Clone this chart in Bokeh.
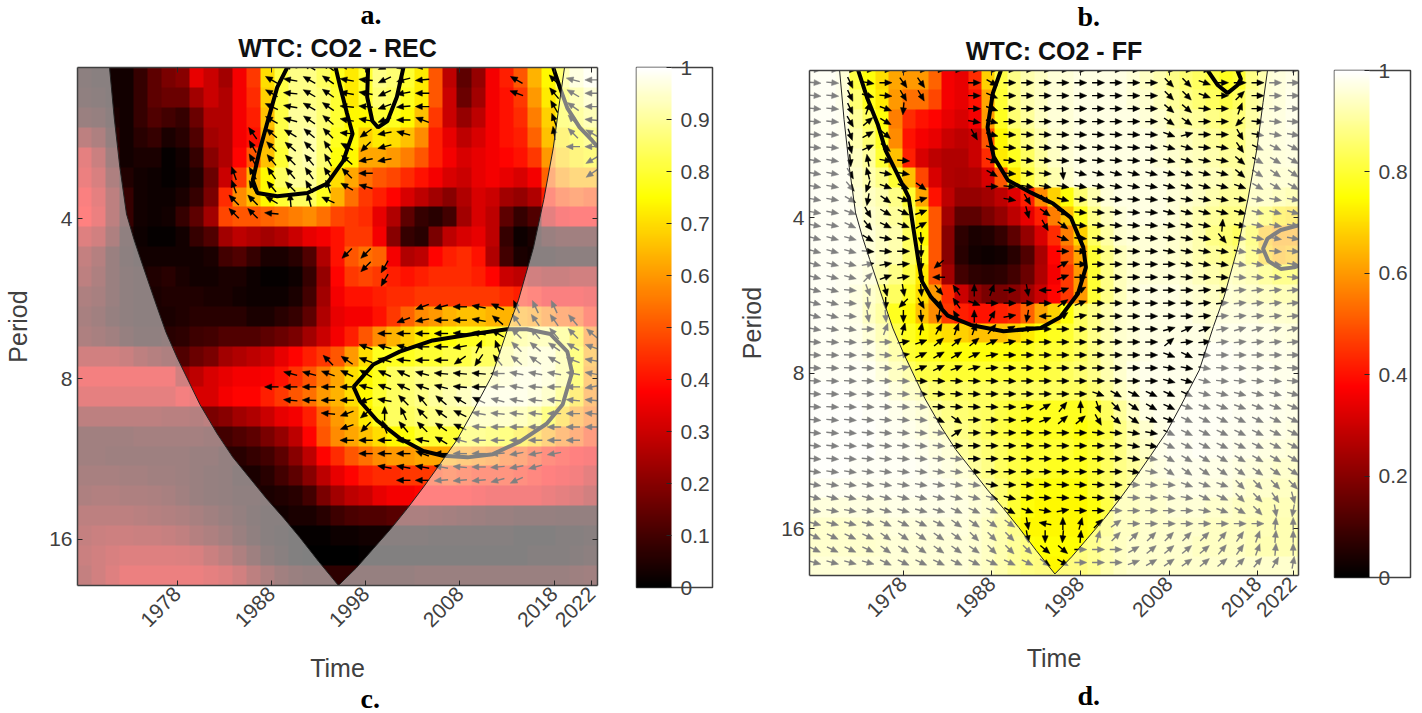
import math
import numpy as np
from bokeh.plotting import figure
from bokeh.layouts import row
from bokeh.models import (Range1d, LinearAxis, FixedTicker, LinearColorMapper, ColorBar, Title)
from bokeh.embed import file_html
from bokeh.resources import INLINE

YEAR_TICKS = [1978, 1988, 1998, 2008, 2018, 2022]
PERIOD_TICKS = {2: "4", 3: "8", 4: "16"}

# coherence in percent, top row first, 37 columns x 26 rows
COH_A = [
[4,3,3,3,8,14,18,20,34,30,24,36,46,70,82,88,88,84,78,72,80,88,86,80,72,50,28,14,22,36,42,50,64,74,86,94,98],
[5,4,3,3,8,14,16,16,24,30,26,36,44,68,82,88,88,86,80,72,80,86,84,78,72,50,30,16,24,36,40,46,60,72,80,86,92],
[8,7,4,3,8,12,10,8,16,26,26,36,42,66,82,90,90,86,80,74,74,80,78,74,66,46,30,22,28,36,40,44,56,68,78,82,86],
[18,14,6,3,6,8,4,6,12,24,26,36,40,64,82,90,92,86,78,76,68,72,70,66,58,42,34,28,32,36,40,42,52,66,72,76,80],
[30,22,10,3,4,4,1,3,8,20,26,38,50,66,80,90,92,86,76,74,62,62,60,56,50,42,36,32,34,36,38,40,46,60,68,72,74],
[32,26,14,5,3,2,1,2,5,16,30,46,64,74,84,90,90,84,70,62,54,50,48,44,40,36,32,30,34,36,34,32,36,52,60,64,64],
[36,30,18,8,3,2,2,4,8,18,44,58,66,74,80,84,84,78,64,54,46,42,38,32,28,24,20,26,32,30,24,22,26,42,48,50,48],
[38,32,18,8,3,2,3,8,14,24,48,50,50,52,54,56,58,54,48,46,44,34,26,14,8,6,10,24,32,28,14,8,12,30,36,38,38],
[28,24,14,5,2,1,1,3,8,12,24,28,26,24,26,30,34,36,40,46,46,36,20,8,6,18,28,32,34,28,8,2,4,8,10,10,10],
[20,16,8,4,3,3,3,3,3,4,10,12,8,4,4,6,12,26,40,50,54,52,36,26,28,38,42,44,40,26,10,4,3,3,4,4,4],
[18,14,8,5,4,5,6,4,3,3,4,4,2,1,1,2,8,22,38,46,48,46,42,40,42,44,44,44,42,38,30,28,24,22,22,24,24],
[14,12,8,5,4,4,5,5,5,4,4,3,2,2,2,4,10,24,36,40,40,42,44,44,46,46,46,46,46,46,44,42,40,36,36,36,34],
[12,10,7,5,4,4,4,5,6,6,6,6,4,4,6,8,14,26,34,36,36,40,46,52,58,60,64,66,66,64,64,62,60,56,52,50,42],
[14,12,10,7,5,5,6,7,9,10,12,12,12,14,16,18,24,30,36,42,50,58,64,68,72,74,76,78,78,80,82,86,88,88,84,72,56],
[24,24,24,22,18,16,14,12,16,18,24,26,28,30,34,38,42,46,50,60,70,78,78,78,80,80,82,82,84,84,88,92,94,94,88,76,62],
[34,34,34,34,34,34,34,24,28,32,34,36,36,37,40,45,50,56,62,70,74,78,84,86,88,88,90,90,92,92,94,96,96,94,88,76,60],
[30,30,30,30,30,30,30,34,32,32,36,38,38,42,46,50,54,60,64,70,74,80,84,86,88,90,92,94,96,96,96,96,94,90,82,70,58],
[18,18,18,18,18,18,17,17,16,18,20,24,26,30,34,36,42,52,60,65,72,78,84,84,86,88,90,90,90,90,90,88,84,76,68,60,54],
[10,10,10,10,11,11,11,11,11,10,10,12,14,18,22,28,38,50,58,62,66,70,74,76,80,80,80,80,80,78,76,72,68,62,56,52,46],
[10,10,9,9,9,9,9,9,8,8,6,6,8,10,14,20,28,38,44,50,54,58,60,60,62,62,62,60,58,56,52,50,46,42,40,38,36],
[12,12,12,11,11,10,10,9,8,7,6,4,4,6,10,14,20,28,34,38,42,44,44,46,46,46,48,46,44,44,44,42,40,38,36,34,30],
[14,15,15,14,14,13,12,10,8,7,6,5,5,4,5,6,10,18,24,28,30,34,36,36,38,38,38,38,36,34,34,34,34,32,30,28,24],
[18,18,18,18,17,16,15,14,12,10,8,6,4,3,3,4,4,6,9,11,12,12,13,13,13,12,11,10,9,8,8,7,7,7,6,6,6],
[20,22,23,23,22,22,21,19,16,14,11,8,5,3,2,1,1,1,2,2,3,3,3,3,3,2,2,2,2,2,2,1,1,1,2,2,3],
[22,24,26,28,28,28,28,27,26,22,18,14,9,5,3,1,0,0,0,0,1,1,1,1,1,1,1,1,1,1,1,1,2,2,2,3,4],
[20,24,28,32,32,32,32,32,32,30,28,24,18,14,10,8,7,7,7,7,7,7,7,7,8,8,8,8,8,8,8,8,8,8,8,9,10],
]
COH_B = [
[98,98,96,82,76,70,62,60,60,52,36,34,44,68,82,88,92,94,96,96,97,97,97,97,96,94,92,88,86,84,82,78,80,88,92,93,95],
[98,98,96,86,78,72,60,54,54,48,36,34,40,62,80,88,92,94,96,96,97,97,97,97,96,95,93,90,88,86,84,82,84,90,92,93,96],
[98,98,97,90,84,76,56,44,40,38,34,32,36,60,78,86,90,94,96,96,97,97,97,97,97,96,95,92,91,90,88,86,87,91,93,94,96],
[98,98,97,92,86,78,58,40,36,34,30,28,30,50,74,82,88,92,95,96,97,97,97,97,97,97,96,94,93,92,90,88,88,92,93,94,95],
[98,98,98,94,90,80,66,42,32,28,26,26,30,44,72,78,84,90,94,96,97,97,97,97,97,97,96,95,94,93,92,90,90,92,92,93,94],
[98,98,98,95,92,88,80,66,48,32,26,25,26,32,50,72,82,88,92,95,97,97,97,97,97,97,97,96,95,94,93,92,91,92,92,92,92],
[98,98,98,96,94,92,88,80,62,40,28,22,22,24,28,33,42,58,68,76,86,92,96,97,97,97,97,96,95,94,92,90,90,90,90,88,86],
[98,98,98,97,95,93,90,84,72,50,24,14,14,18,22,28,34,42,56,66,78,88,93,96,97,97,97,96,94,92,90,88,88,86,80,72,70],
[98,98,98,97,96,94,92,84,74,50,20,7,4,5,8,14,22,32,44,56,68,84,91,95,96,96,96,95,94,92,88,86,84,78,66,62,62],
[98,98,98,97,96,94,92,85,78,50,20,6,3,2,3,6,12,25,38,50,62,80,88,93,95,96,96,95,94,92,90,88,86,80,68,64,66],
[98,98,97,96,94,92,88,82,72,50,24,10,7,6,7,10,16,26,36,46,60,80,88,93,95,96,96,96,95,93,92,90,88,86,82,78,78],
[98,98,97,94,90,86,84,78,70,60,44,30,22,18,18,20,24,30,38,46,60,80,88,93,96,97,97,97,96,95,94,92,91,90,88,86,86],
[98,98,97,95,88,82,78,74,66,58,46,42,40,40,42,44,52,62,68,76,84,88,92,95,96,97,97,97,97,96,95,94,94,94,92,91,90],
[98,98,97,96,92,86,82,78,74,72,70,68,66,66,66,68,72,76,78,80,84,88,92,95,96,97,97,97,97,97,96,96,96,96,95,94,93],
[98,98,98,97,95,90,84,80,78,78,76,76,76,76,76,76,78,80,80,82,84,88,92,95,96,97,98,98,98,98,98,98,97,97,96,96,95],
[98,98,98,98,97,93,88,84,82,82,80,80,80,80,80,80,80,80,82,84,86,88,92,95,97,98,98,98,98,98,98,98,98,97,97,96,96],
[99,99,99,98,98,97,93,90,88,86,85,85,84,84,84,84,84,84,84,84,84,86,90,94,96,98,98,98,98,98,98,98,98,98,97,97,96],
[99,99,99,99,98,98,96,94,92,90,88,86,85,84,82,80,78,78,78,78,78,80,84,90,94,97,98,98,98,98,98,98,97,97,97,96,95],
[99,99,99,99,99,98,97,96,94,92,90,88,86,84,82,80,78,78,78,78,76,78,82,88,92,95,97,98,98,98,98,97,97,97,96,95,94],
[99,99,99,99,99,98,98,97,96,94,92,90,88,86,84,82,80,80,80,80,78,80,84,88,92,94,96,97,97,98,97,97,96,96,94,93,92],
[99,99,99,98,98,98,98,98,97,96,94,92,90,88,84,82,80,80,78,78,78,80,84,88,90,92,94,96,96,96,95,95,94,93,92,90,90],
[97,97,97,97,97,97,97,97,97,97,96,94,92,90,86,82,78,76,76,76,76,80,84,88,90,92,92,94,95,95,94,94,92,90,90,88,88],
[93,93,93,94,94,94,95,95,95,95,95,94,92,90,86,80,76,74,74,74,74,76,82,88,88,90,90,92,92,92,90,90,88,88,86,86,86],
[90,90,90,91,92,92,93,93,93,93,93,93,91,88,84,78,74,74,74,74,74,76,82,88,88,90,90,90,90,90,88,88,88,86,86,85,85],
[90,90,90,90,90,91,92,92,92,92,92,92,91,88,84,80,76,75,75,75,75,78,84,88,90,90,90,90,90,88,88,88,88,86,85,85,85],
[92,92,92,92,92,92,92,92,92,92,92,92,90,88,84,80,76,74,74,74,74,78,84,88,90,90,90,90,90,90,90,90,90,90,90,90,90],
]

# cone of influence: (year, log2 period)
COI_YEAR = [1970.8,1971.3,1971.9,1972.6,1973.4,1974.2,1975.6,1976.8,1978,1980.4,1982.2,1983.9,1985.7,1987.5,1989.3,1991.0,1993.0,1995.1,
            1997.0,1998.8,2000.6,2002.4,2004.2,2005.9,2007.7,2009.4,2011.4,2013.0,2014.2,2015.8,2016.9,2017.9,2018.6,2019.1]
COI_LOG = [1.056,1.37,1.68,1.97,2.13,2.27,2.51,2.71,2.87,3.16,3.34,3.49,3.62,3.75,3.87,3.99,4.14,4.29,
           4.18,4.06,3.94,3.81,3.67,3.53,3.38,3.2,2.98,2.7,2.51,2.18,1.88,1.56,1.26,1.056]

# significance contours: (year, log2 period)
CONT_A = [
 ([1989.66,1988.6,1987.5,1986.8,1986.0,1986.5,1988.6,1991.8,1993.9,1995.6,1996.6,1996.0,1995.3,1994.8],
  [1.056,1.18,1.41,1.56,1.76,1.84,1.86,1.84,1.78,1.64,1.47,1.34,1.18,1.056]),
 ([1998.25,1998.15,1998.7,1999.3,2000.3,2001.3,2002.0],
  [1.056,1.24,1.39,1.43,1.39,1.24,1.056]),
 ([1996.7,1998.8,2001.6,2005.1,2009.4,2013.0,2015.1,2017.6,2019.4,2019.9,2018.9,2017.2,2014.4,2011.5,2008.8,2006.2,2004.1,2001.6,1999.2,1997.4,1996.7],
  [3.05,2.91,2.83,2.76,2.72,2.69,2.69,2.72,2.83,2.96,3.16,3.28,3.39,3.47,3.49,3.48,3.45,3.37,3.26,3.14,3.05]),
 ([2017.9,2018.6,2019.4,2020.7,2022.0,2022.6],[1.056,1.18,1.31,1.43,1.51,1.55]),
]
CONT_B = [
 ([1972.9,1973.9,1975.1,1976.0,1977.3,1978.6,1979.1,1979.7,1980.1,1981.1,1983.0,1985.6,1989.3,1993.5,1995.7,1997.7,1998.6,1998.3,1996.9,1994.9,1992.4,1989.8,1988.2,1987.5,1988.1,1989.0],
  [1.055,1.23,1.40,1.57,1.72,1.87,2.06,2.28,2.41,2.51,2.63,2.69,2.73,2.71,2.64,2.49,2.32,2.19,2.0,1.91,1.84,1.76,1.61,1.42,1.20,1.055]),
 ([2012.35,2013.5,2014.6,2015.7,2016.1,2015.7],[1.055,1.15,1.20,1.15,1.11,1.055]),
 ([2022.6,2020.6,2019.1,2018.6,2019.2,2020.6,2022.1,2022.6],[2.05,2.08,2.135,2.2,2.28,2.33,2.32,2.31]),
]

# phase arrows of panel a: (row, first year, angles in degrees every 2 years)
PHASE_A = [
 (0,1990,[170,150,145,170,175,205,195,185]),
 (1,1988,[150,170,150,145,170,175,205,195,185]),(1,2014,[150]),(1,2018,[135,165,180]),
 (2,1988,[150,175,150,145,170,170,205,190,180]),(2,2014,[160]),(2,2018,[130,150,180]),
 (3,1988,[155,170,150,145,175,175,200,185,180]),(3,2018,[120,145,180]),
 (4,1988,[150,165,145,140,170,170,200,180,160]),(4,2018,[110,135,175]),
 (5,1986,[125,140,150,140,135,175,215,190,165]),(5,2018,[100,135,150]),
 (6,1986,[120,135,140,135,125,150,225,195]),(6,2020,[180,180]),
 (7,1986,[120,130,135,130,120,140,190,190]),(7,2022,[210]),
 (8,1984,[110,120,125,130,125,125,135,180]),(8,2022,[215]),
 (9,1984,[110,120,130,135,120,110,150,165]),
 (10,1984,[135,135,150,95,105,155]),
 (11,1984,[135,135,175]),
 (14,1996,[225,225]),(15,1998,[225,240]),(16,2000,[240]),
 (18,2004,[200,195,180,170,155]),(18,2014,[115,115,115]),
 (19,2002,[200,190,180,180,170,140,125,125,125,130]),
 (20,2000,[180,180,180,180,175,170,150,135,130,130,135,140]),
 (21,1998,[160,165,165,180,180,190,65,110,135,140,145,150,160]),
 (22,1994,[135,145,160,165,175,180,180,215,235,130,140,145,150,160,170]),
 (23,1990,[165,165,160,155,150,155,155,165,175,175,175,180,170,170,170,170,170]),
 (24,1988,[180,180,180,180,180,165,160,155,160,165,175,180,180,170,175,180,180,190]),
 (25,1990,[175,178,180,180,200,170,135,130,140,150,155,165,170,175,175,175,175]),
 (26,1994,[175,200,220,90,115,135,145,155,170,175,175,175,180,180,175]),
 (27,1996,[200,225,110,130,135,145,155,175,180,180,180,180,180,180]),
 (28,1996,[180,180,180,180,170,150,165,180,180,180,180,180,180]),
 (29,1998,[180,180,180,160,180,180,180,185,190,190,190]),
 (30,2000,[170,170,170,170,175,180,185,190,195]),
 (31,2002,[180,180,185,185,185,195,205]),
]

# phase arrows of panel b: row -> runs of (count, angle), 28 columns from 1968
N = None
PHASE_B = {
 0:[(28,0)],
 1:[(2,-5),(1,-65),(1,-10),(1,0),(2,-55),(2,N),(1,0),(1,-30),(9,0),(2,-45),(1,-20),(5,0)],
 2:[(2,-5),(1,-65),(1,-15),(1,-5),(2,-60),(2,N),(1,0),(1,-25),(9,0),(2,-45),(1,-20),(1,0),(1,45),(3,0)],
 3:[(2,-5),(1,-65),(1,70),(1,-20),(1,-95),(3,N),(1,0),(1,-20),(9,0),(2,-40),(1,-5),(1,0),(1,70),(3,0)],
 4:[(2,-5),(1,-60),(1,40),(1,-30),(4,N),(1,-10),(1,-15),(9,0),(2,-35),(2,0),(1,225),(3,-5)],
 5:[(2,-5),(1,-70),(1,30),(1,-40),(4,N),(1,-60),(1,-15),(9,-3),(1,-20),(1,15),(2,0),(1,-60),(3,-10)],
 6:[(2,-5),(1,-75),(1,25),(1,-40),(5,N),(1,-15),(9,-5),(2,-15),(1,-5),(1,-10),(1,-55),(3,-25)],
 7:[(2,-10),(1,-85),(1,100),(1,-10),(1,-5),(4,N),(1,-20),(9,-5),(2,-15),(2,-10),(1,-40),(3,-30)],
 8:[(2,-10),(1,-60),(1,105),(2,-10),(4,N),(1,-30),(3,-5),(1,-85),(5,-15),(4,-15),(1,-40),(3,-35)],
 9:[(2,-10),(1,-50),(1,-110),(1,-20),(1,-25),(1,-35),(3,N),(1,0),(1,-5),(8,-10),(4,-15),(1,-20),(3,-30)],
 10:[(2,-10),(1,-30),(1,-100),(1,-35),(1,-20),(1,15),(4,N),(1,-10),(1,-60),(1,-45),(1,-15),(5,-5),(8,-10)],
 11:[(2,-10),(1,-20),(1,-60),(1,-30),(1,-25),(1,20),(5,N),(1,-75),(1,-35),(1,-25),(5,-5),(8,-15)],
 12:[(2,-10),(1,-25),(1,-50),(1,-25),(1,-20),(1,30),(6,N),(1,-60),(1,-35),(5,-5),(3,-10),(1,85),(4,-10)],
 13:[(3,-15),(1,-30),(1,-10),(1,-5),(1,-85),(7,N),(1,-20),(5,-5),(3,-10),(1,-50),(4,-10)],
 14:[(3,-15),(1,-5),(1,-5),(1,0),(1,-90),(7,N),(1,0),(5,-3),(6,-10),(2,-5)],
 15:[(3,-15),(1,10),(1,10),(1,5),(1,-90),(1,220),(6,N),(1,30),(6,0),(7,-10)],
 16:[(3,-15),(1,45),(1,20),(1,10),(1,-80),(1,180),(6,N),(1,20),(6,0),(7,-5)],
 17:[(2,-15),(1,-5),(1,-70),(1,-75),(1,-80),(1,-85),(1,-50),(1,125),(1,90),(1,70),(1,0),(1,-80),(1,180),(1,20),(1,30),(6,0),(6,5)],
 18:[(2,-15),(1,-5),(1,-85),(1,-90),(1,225),(1,-60),(1,-45),(1,125),(1,-20),(4,0),(1,35),(1,20),(6,0),(6,5)],
 19:[(2,-15),(1,-5),(1,-80),(1,-85),(1,-90),(1,-85),(1,-100),(1,120),(1,90),(1,60),(1,10),(1,260),(1,180),(1,35),(1,10),(6,0),(6,5)],
 20:[(3,-10),(1,0),(1,70),(1,75),(1,80),(1,60),(2,70),(1,50),(1,30),(1,20),(7,0),(1,15),(1,25),(1,20),(1,10),(4,15)],
 21:[(3,-5),(1,5),(1,0),(1,10),(1,20),(3,40),(1,25),(1,10),(8,0),(1,40),(7,5)],
 22:[(4,-3),(1,-5),(1,10),(1,25),(2,30),(1,25),(1,10),(9,0),(1,-20),(1,-25),(1,-5),(5,0)],
 23:[(5,-3),(1,15),(1,20),(1,25),(1,20),(1,15),(1,5),(9,0),(3,-10),(5,-3)],
 24:[(12,-3),(8,0),(3,-15),(5,-5)],
 25:[(10,-3),(6,0),(1,-20),(1,-30),(4,-25),(6,-15)],
 26:[(11,-3),(1,0),(1,10),(1,30),(1,50),(1,90),(1,-70),(1,-45),(1,-35),(1,-30),(1,-25),(7,-20)],
 27:[(7,-5),(1,-25),(1,-35),(3,0),(1,10),(1,20),(2,40),(1,-60),(1,-40),(1,-35),(1,-25),(1,-20),(7,-25)],
 28:[(8,-5),(1,35),(7,0),(2,-5),(2,-10),(8,-25)],
 29:[(8,-5),(10,0),(2,-10),(8,-25)],
 30:[(9,-5),(9,0),(2,-10),(8,-30)],
 31:[(10,-8),(8,0),(2,-10),(8,-35)],
 32:[(11,-10),(8,-3),(2,-5),(3,-20),(4,-45)],
 33:[(12,-15),(8,-3),(2,-10),(2,-25),(2,-45),(1,-55),(1,-75)],
 34:[(4,-10),(4,-15),(3,-25),(1,-30),(1,-20),(1,-10),(1,10),(7,0),(1,-10),(1,-20),(1,-30),(1,-45),(1,-80),(1,-100)],
 35:[(4,-15),(4,-25),(4,-35),(1,-80),(1,170),(1,90),(1,75),(1,45),(1,35),(8,0),(1,85),(1,90)],
 36:[(4,-25),(5,-35),(3,-45),(1,-80),(1,-90),(1,-95),(1,85),(1,75),(6,45),(1,50),(1,55),(1,70),(1,85),(1,90)],
 37:[(4,-25),(6,-35),(3,-45),(2,-40),(3,0),(1,30),(4,40),(1,50),(1,55),(1,70),(1,85),(1,90)],
 38:[(4,-15),(9,-25),(1,-35),(1,-30),(3,0),(1,20),(1,30),(2,35),(2,40),(1,45),(1,50),(1,60),(1,80)],
}

AX = "#404040"
X0, X1 = 1967.4, 2022.6


def hot_palette():
    out = []
    for i in range(256):
        t = i / 255
        r = min(t / 0.375, 1)
        g = min(max(t - 0.375, 0) / 0.375, 1)
        b = max(t - 0.75, 0) / 0.25
        out.append("#%02x%02x%02x" % (int(r * 255), int(g * 255), int(b * 255)))
    return out


def expand_runs(runs):
    vals = []
    for n, a in runs:
        vals += [a] * n
    return (vals + [vals[-1]] * 28)[:28]


def arrow_geometry(items, L, head_l, head_w, px_x, px_y):
    seg = [[], [], [], []]
    hx, hy = [], []
    for yr, lp, ang in items:
        c, s = math.cos(math.radians(ang)), math.sin(math.radians(ang))
        def pt(u, v):
            return yr + (u * c - v * s) / px_x, lp - (u * s + v * c) / px_y
        a = pt(-L / 2, 0); b = pt(L / 2 - head_l * 0.7, 0)
        seg[0].append(a[0]); seg[1].append(a[1]); seg[2].append(b[0]); seg[3].append(b[1])
        tip = pt(L / 2, 0); l = pt(L / 2 - head_l, head_w / 2); r = pt(L / 2 - head_l, -head_w / 2)
        hx.append([tip[0], l[0], r[0]]); hy.append([tip[1], l[1], r[1]])
    return seg, hx, hy


def letter(txt, off, standoff):
    return Title(text=txt, align="left", offset=off, standoff=standoff, text_font="Liberation Serif",
                 text_font_style="bold", text_font_size="28px", text_color="black")


def panel(width, height, left, right, top, bottom, ybot, ytop, coh, contours, arrows, title,
          cb_ticks, top_letter, bottom_letter, letter_off, L, cb_x, py_standoff, t_standoff,
          top_standoff, bot_standoff):
    p = figure(width=width, height=height, min_border_left=left, min_border_right=right,
               min_border_top=top, min_border_bottom=bottom, output_backend="svg", toolbar_location=None,
               x_range=Range1d(X0, X1), y_range=Range1d(ybot, ytop), frame_align=False, title=None)
    fw, fh = width - left - right, height - top - bottom
    px_x, px_y = fw / (X1 - X0), fh / (ybot - ytop)
    p.grid.visible = False
    p.outline_line_color = None

    xa, ya = p.xaxis[0], p.yaxis[0]
    xa.ticker = FixedTicker(ticks=YEAR_TICKS)
    ya.ticker = FixedTicker(ticks=list(PERIOD_TICKS))
    ya.major_label_overrides = PERIOD_TICKS
    xa.axis_label = "Time"; ya.axis_label = "Period"
    xa.major_label_orientation = math.pi / 4
    xa.axis_label_standoff = 18; ya.axis_label_standoff = py_standoff
    for ax in (xa, ya):
        ax.axis_label_text_font = "Liberation Sans"; ax.axis_label_text_font_style = "normal"
        ax.axis_label_text_font_size = "25px"; ax.axis_label_text_color = AX
        ax.major_label_text_font = "Liberation Sans"; ax.major_label_text_font_size = "21px"
        ax.major_label_text_color = AX
    tx = LinearAxis(ticker=FixedTicker(ticks=YEAR_TICKS), major_label_text_font_size="1px",
                    major_label_text_color=None, major_label_standoff=0)
    ty = LinearAxis(ticker=FixedTicker(ticks=list(PERIOD_TICKS)), major_label_text_font_size="1px",
                    major_label_text_color=None)
    p.add_layout(tx, "above"); p.add_layout(ty, "right")
    for ax in (xa, ya, tx, ty):
        ax.major_tick_in = 5; ax.major_tick_out = 0
        ax.minor_tick_line_color = None
        ax.axis_line_color = AX; ax.axis_line_width = 1.5; ax.major_tick_line_color = "#262626"

    p.add_layout(Title(text=title, align="center", standoff=t_standoff, text_font="Liberation Sans",
                       text_font_style="bold", text_font_size="25px", text_color="#111111"), "above")
    p.add_layout(letter(top_letter, letter_off, top_standoff), "above")
    p.add_layout(letter(bottom_letter, letter_off, bot_standoff), "below")

    mapper = LinearColorMapper(palette=hot_palette(), low=0, high=1)
    arr = np.array(coh, dtype=float) / 100
    p.image(image=[arr], x=X0, y=ytop, dw=X1 - X0, dh=ybot - ytop, color_mapper=mapper)

    for cx, cy in contours:
        p.line(cx, cy, line_color="black", line_width=4)

    seg, hx, hy = arrow_geometry(arrows, L, 7, 6, px_x, px_y)
    p.segment(seg[0], seg[1], seg[2], seg[3], line_color="black", line_width=1.4)
    p.patches(hx, hy, fill_color="black", line_color="black", line_width=0.5)

    ox = COI_YEAR + [X1, X1, X0, X0]
    oy = COI_LOG + [ytop, ybot, ybot, ytop]
    p.patch(ox, oy, fill_color="white", fill_alpha=0.5, line_color=None)
    p.line(COI_YEAR, COI_LOG, line_color="#222222", line_width=1)

    cb = ColorBar(color_mapper=mapper, width=35, height=fh + 2, ticker=FixedTicker(ticks=cb_ticks),
                  margin=0, padding=0, location=(cb_x, -2), border_line_color=AX, border_line_width=1.5,
                  major_tick_in=5, major_tick_line_color="#262626", bar_line_color=None,
                  major_label_text_font="Liberation Sans", major_label_text_font_size="21px",
                  major_label_text_color=AX, label_standoff=9, minor_tick_line_color=None)
    p.add_layout(cb, "right")
    return p


arrows_a = []
for k, y0, angs in PHASE_A:
    for i, a in enumerate(angs):
        arrows_a.append((y0 + 2 * i, 1.05 + k / 12, a))
arrows_b = []
for k, runs in PHASE_B.items():
    for i, a in enumerate(expand_runs(runs)):
        if a is not None:
            arrows_b.append((1968 + 2 * i, 1.05 + k / 12, a))

p1 = panel(720, 713, 77, 123, 67, 128, 4.29, 1.056, COH_A, CONT_A, arrows_a, "WTC: CO2 - REC",
           [i / 10 for i in range(11)], "a.", "c.", 283, 14, 39, 14, 11, -7, -9)
p2 = panel(694, 713, 89, 116, 70, 138, 4.30, 1.055, COH_B, CONT_B, arrows_b, "WTC: CO2 - FF",
           [i / 5 for i in range(6)], "b.", "d.", 268, 12.5, 36, 12, 11, -4, 5)
page = row(p1, p2, spacing=0)
open("out.html", "w").write(file_html(page, INLINE))
